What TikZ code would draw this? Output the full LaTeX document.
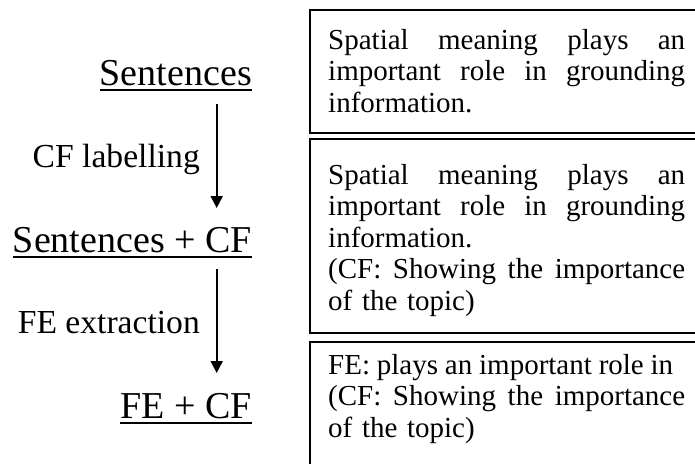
\documentclass[tikz,border=0pt]{standalone}
\usepackage{fontspec}
\setmainfont{Liberation Serif}
\usetikzlibrary{arrows.meta}
% a line set to a given width, word gaps kept equal
\newcommand{\fitline}[2]{\leavevmode\hbox to #1{\spaceskip=.25em plus 1fil minus 1fil\relax #2}}
% a line stretched to the full panel width (justified)
\newcommand{\jline}[1]{\fitline{357pt}{#1}}
\begin{document}
\begin{tikzpicture}[x=1pt,y=-1pt,
  head/.style={inner sep=0pt, anchor=base east, font=\fontsize{38}{44}\selectfont},
  steplabel/.style={inner sep=0pt, anchor=base east, font=\fontsize{33.6}{40}\selectfont},
  panel/.style={draw, line width=2pt},
  paneltext/.style={inner sep=0pt, anchor=base west, text width=380pt, align=left,
                    font=\fontsize{29}{31.6}\selectfont},
  flow/.style={line width=2pt, -{Triangle[length=12pt,width=12pt]}},
  uline/.style={line width=2pt}]
\path[use as bounding box] (0,0) rectangle (695,463);
\clip (0,0) rectangle (695,463);

% left column: stages of the pipeline
\node[head] (h1) at (252,85)  {Sentences};
\node[head] (h2) at (252,252) {Sentences + CF};
\node[head] (h3) at (252,418) {FE + CF};
\foreach \h in {h1,h2,h3}
  \draw[uline] ([yshift=-4.5pt]\h.base west) -- ([yshift=-4.5pt]\h.base east);

\draw[flow] ([xshift=-35.3pt,yshift=-19pt]h1.base east) -- ([xshift=-35.3pt,yshift=44pt]h2.base east);
\draw[flow] ([xshift=-35.3pt,yshift=-17pt]h2.base east) -- ([xshift=-35.3pt,yshift=45pt]h3.base east);

\node[steplabel] (l1) at (200,167) {CF labelling};
\node[steplabel] (l2) at (200,333) {FE extraction};

% right column: example panels
\draw[panel] (310,10)  rectangle (730,133);
\draw[panel] (310,139) rectangle (730,333);
\draw[panel] (310,342) rectangle (730,520);

\node[paneltext] (t1) at (328,49) {%
  \jline{Spatial meaning plays an}\\
  \jline{important role in grounding}\\
  information.};
\node[paneltext] (t2) at (328,184) {%
  \jline{Spatial meaning plays an}\\
  \jline{important role in grounding}\\
  information.\\
  \jline{(CF: Showing the importance}\\
  of the topic)};
\node[paneltext] (t3) at (328,374) {%
  \fitline{345pt}{FE: plays an important role in}\\
  \jline{(CF: Showing the importance}\\
  of the topic)};
\end{tikzpicture}
\end{document}
